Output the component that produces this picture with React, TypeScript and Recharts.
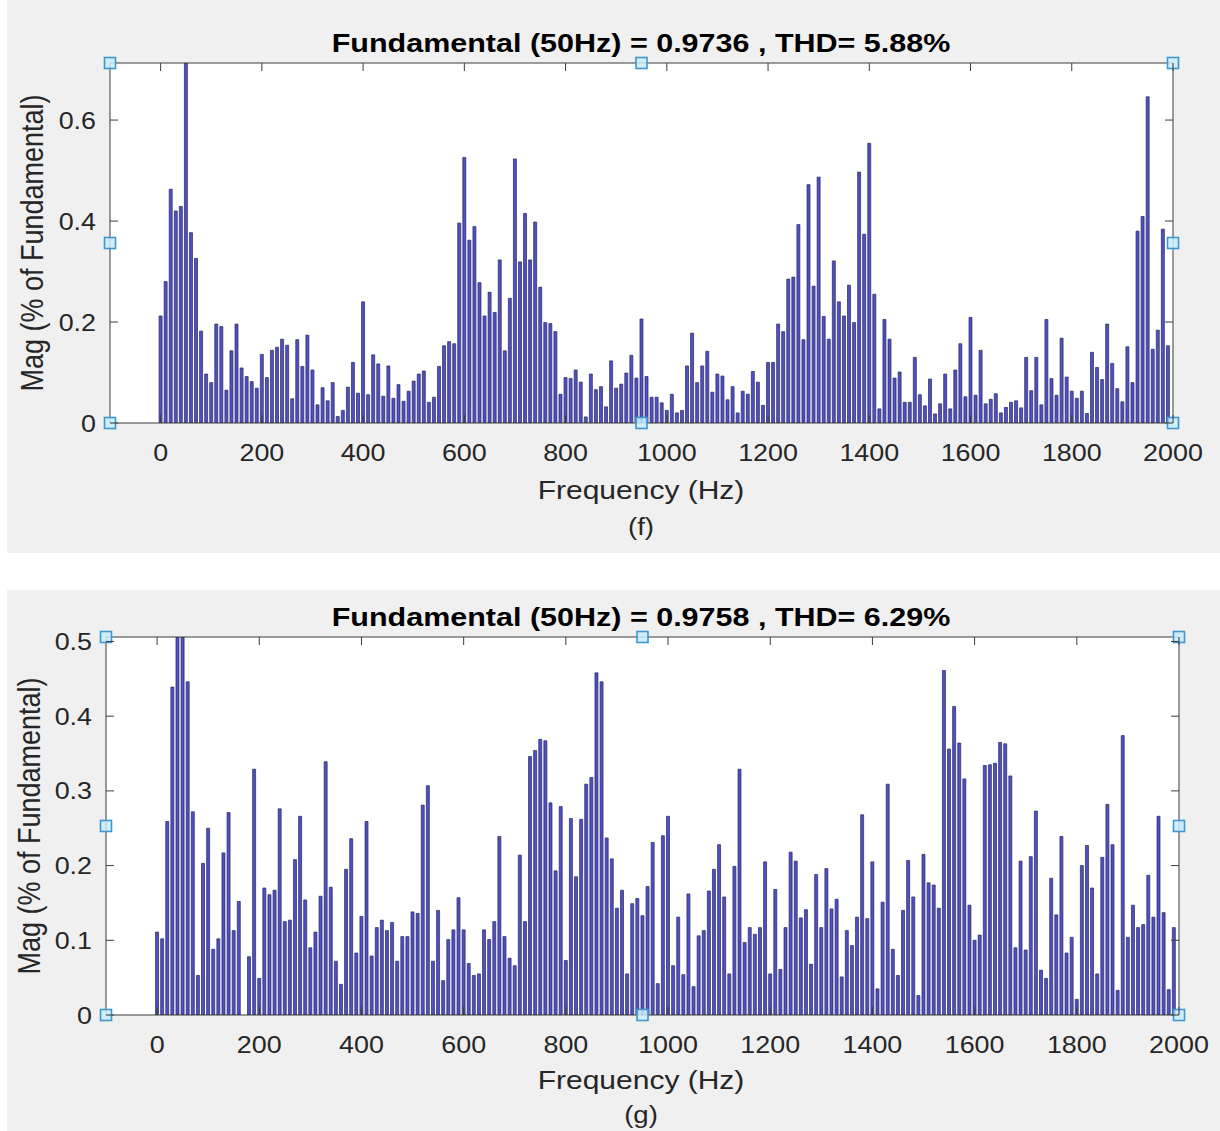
import React from 'react';
import { BarChart, Bar, XAxis, YAxis, CartesianGrid, ReferenceDot } from 'recharts';

// Harmonic magnitudes (% of fundamental), one bar every 10 Hz from 0 to 1990 Hz
const magF = [
  0.212, 0.280, 0.463, 0.420, 0.429, 0.713, 0.377, 0.326, 0.182, 0.097,
  0.080, 0.196, 0.191, 0.065, 0.143, 0.196, 0.109, 0.092, 0.082, 0.069,
  0.136, 0.090, 0.144, 0.150, 0.166, 0.154, 0.048, 0.165, 0.112, 0.174,
  0.105, 0.036, 0.070, 0.044, 0.080, 0.013, 0.025, 0.071, 0.120, 0.059,
  0.240, 0.056, 0.135, 0.117, 0.053, 0.113, 0.049, 0.076, 0.043, 0.063,
  0.083, 0.097, 0.103, 0.041, 0.051, 0.112, 0.153, 0.161, 0.157, 0.396,
  0.526, 0.362, 0.389, 0.278, 0.212, 0.259, 0.219, 0.323, 0.143, 0.247,
  0.523, 0.319, 0.415, 0.323, 0.398, 0.269, 0.199, 0.197, 0.181, 0.057,
  0.090, 0.088, 0.105, 0.081, 0.012, 0.097, 0.066, 0.072, 0.032, 0.123,
  0.069, 0.077, 0.099, 0.134, 0.089, 0.206, 0.092, 0.051, 0.051, 0.040,
  0.025, 0.057, 0.020, 0.025, 0.113, 0.178, 0.080, 0.113, 0.142, 0.061,
  0.097, 0.093, 0.046, 0.072, 0.020, 0.063, 0.057, 0.102, 0.081, 0.035,
  0.120, 0.120, 0.196, 0.181, 0.285, 0.289, 0.393, 0.165, 0.472, 0.271,
  0.487, 0.211, 0.166, 0.321, 0.240, 0.212, 0.273, 0.199, 0.497, 0.374,
  0.554, 0.255, 0.028, 0.205, 0.166, 0.089, 0.101, 0.041, 0.041, 0.130,
  0.056, 0.034, 0.087, 0.018, 0.038, 0.097, 0.028, 0.105, 0.157, 0.052,
  0.209, 0.055, 0.144, 0.038, 0.047, 0.058, 0.020, 0.031, 0.041, 0.044,
  0.030, 0.130, 0.064, 0.130, 0.036, 0.205, 0.088, 0.055, 0.168, 0.091,
  0.063, 0.049, 0.063, 0.019, 0.140, 0.110, 0.086, 0.196, 0.118, 0.068,
  0.042, 0.151, 0.080, 0.380, 0.409, 0.646, 0.146, 0.184, 0.384, 0.153,
];

const magG = [
  0.111, 0.102, 0.259, 0.439, 0.506, 0.506, 0.446, 0.272, 0.053, 0.203,
  0.250, 0.088, 0.102, 0.217, 0.271, 0.113, 0.152, 0.000, 0.078, 0.329,
  0.049, 0.170, 0.161, 0.167, 0.276, 0.125, 0.127, 0.208, 0.266, 0.154,
  0.090, 0.111, 0.159, 0.339, 0.171, 0.072, 0.041, 0.195, 0.236, 0.083,
  0.132, 0.259, 0.079, 0.117, 0.127, 0.113, 0.124, 0.072, 0.105, 0.105,
  0.138, 0.136, 0.281, 0.307, 0.072, 0.140, 0.046, 0.101, 0.114, 0.157,
  0.114, 0.069, 0.053, 0.055, 0.114, 0.101, 0.125, 0.239, 0.105, 0.076,
  0.066, 0.214, 0.125, 0.346, 0.354, 0.369, 0.367, 0.284, 0.193, 0.279,
  0.073, 0.263, 0.185, 0.262, 0.309, 0.318, 0.458, 0.446, 0.237, 0.209,
  0.143, 0.167, 0.055, 0.149, 0.156, 0.133, 0.172, 0.231, 0.042, 0.240,
  0.266, 0.066, 0.131, 0.054, 0.162, 0.038, 0.106, 0.113, 0.166, 0.195,
  0.228, 0.158, 0.055, 0.199, 0.329, 0.097, 0.117, 0.108, 0.117, 0.205,
  0.055, 0.168, 0.061, 0.117, 0.218, 0.206, 0.130, 0.141, 0.068, 0.188,
  0.117, 0.196, 0.142, 0.155, 0.051, 0.113, 0.093, 0.131, 0.268, 0.129,
  0.205, 0.035, 0.151, 0.309, 0.088, 0.053, 0.140, 0.207, 0.158, 0.026,
  0.215, 0.177, 0.174, 0.143, 0.461, 0.356, 0.413, 0.364, 0.316, 0.147,
  0.100, 0.107, 0.334, 0.335, 0.337, 0.365, 0.363, 0.320, 0.090, 0.206,
  0.087, 0.212, 0.273, 0.060, 0.049, 0.183, 0.134, 0.239, 0.083, 0.104,
  0.021, 0.200, 0.227, 0.170, 0.055, 0.211, 0.282, 0.228, 0.033, 0.374,
  0.104, 0.147, 0.117, 0.121, 0.187, 0.131, 0.266, 0.137, 0.034, 0.117,
];

// Frequency categories (Hz)
const freqs = magF.map((_, i) => i * 10);

const xTicks = [0, 200, 400, 600, 800, 1000, 1200, 1400, 1600, 1800, 2000];
const yTicksF = [0, 0.2, 0.4, 0.6];
const yTicksG = [0, 0.1, 0.2, 0.3, 0.4, 0.5];
const xDomain: [number, number] = [-100, 2000];
const yMaxF = 0.713;
const yMaxG = 0.506;

const titleF = 'Fundamental (50Hz) = 0.9736 , THD= 5.88%';
const titleG = 'Fundamental (50Hz) = 0.9758 , THD= 6.29%';

const dataF = freqs.map((f, i) => ({ f, m: magF[i] }));
const dataG = freqs.map((f, i) => ({ f, m: magG[i] }));

const FONT = '"Liberation Sans", Arial, Helvetica, sans-serif';
const AXIS = '#3c3c3c';
const TEXT = '#262626';
const TICK_SX = 1.12;
const TICK_FS = 24;
const TICK_LEN = 8;

const BottomTick = (props: any) => {
  const { x, y, payload } = props;
  return (
    <g>
      <line x1={x} x2={x} y1={y} y2={y - TICK_LEN} stroke={AXIS} strokeWidth={1} />
      <text
        transform={`translate(${x} ${y + 37.5}) scale(${TICK_SX} 1)`}
        textAnchor="middle"
        fontSize={TICK_FS}
        fontFamily={FONT}
        fill={TEXT}
      >
        {payload.value}
      </text>
    </g>
  );
};

const TopTick = (props: any) => {
  const { x, y } = props;
  return <line x1={x} x2={x} y1={y} y2={y + TICK_LEN} stroke={AXIS} strokeWidth={1} />;
};

const LeftTick = (props: any) => {
  const { x, y, payload } = props;
  return (
    <g>
      <line x1={x} x2={x + TICK_LEN} y1={y} y2={y} stroke={AXIS} strokeWidth={1} />
      <text
        transform={`translate(${x - 14} ${y + 8.5}) scale(${TICK_SX} 1)`}
        textAnchor="end"
        fontSize={TICK_FS}
        fontFamily={FONT}
        fill={TEXT}
      >
        {String(payload.value)}
      </text>
    </g>
  );
};

const RightTick = (props: any) => {
  const { x, y } = props;
  return <line x1={x} x2={x - TICK_LEN} y1={y} y2={y} stroke={AXIS} strokeWidth={1} />;
};

const Handle = (props: any) => {
  const { cx, cy } = props;
  if (cx == null || cy == null) return null;
  return (
    <rect
      x={cx - 5.5}
      y={cy - 5.5}
      width={11}
      height={11}
      fill="#c9ecfb"
      fillOpacity={0.85}
      stroke="#3d98cf"
      strokeWidth={1.6}
    />
  );
};

type PanelProps = {
  data: { f: number; m: number }[];
  top: number;
  height: number;
  margin: { top: number; right: number; bottom: number; left: number };
  yMax: number;
  yTicks: number[];
};

function Panel({ data, top, height, margin, yMax, yTicks }: PanelProps) {
  const handlesX = [xDomain[0], (xDomain[0] + xDomain[1]) / 2, xDomain[1]];
  const handlesY = [0, yMax / 2, yMax];
  const handles: { x: number; y: number }[] = [];
  handlesX.forEach((hx, i) =>
    handlesY.forEach((hy, j) => {
      if (i === 1 && j === 1) return;
      handles.push({ x: hx, y: hy });
    })
  );
  return (
    <div style={{ position: 'absolute', left: 0, top, width: 1220, height }}>
      <BarChart width={1220} height={height} data={data} margin={margin}>
        <CartesianGrid horizontal={false} vertical={false} fill="#ffffff" fillOpacity={1} />
        <XAxis
          xAxisId="b"
          dataKey="f"
          type="number"
          domain={xDomain}
          ticks={xTicks}
          interval={0}
          height={10}
          tickSize={0}
          tickMargin={0}
          tickLine={false}
          axisLine={{ stroke: AXIS, strokeWidth: 1 }}
          tick={<BottomTick />}
          allowDataOverflow
        />
        <XAxis
          xAxisId="t"
          orientation="top"
          dataKey="f"
          type="number"
          domain={xDomain}
          ticks={xTicks}
          interval={0}
          height={10}
          tickSize={0}
          tickMargin={0}
          tickLine={false}
          axisLine={{ stroke: AXIS, strokeWidth: 1 }}
          tick={<TopTick />}
          allowDataOverflow
        />
        <YAxis
          yAxisId="l"
          type="number"
          domain={[0, yMax]}
          ticks={yTicks}
          interval={0}
          width={10}
          tickSize={0}
          tickMargin={0}
          tickLine={false}
          axisLine={{ stroke: AXIS, strokeWidth: 1 }}
          tick={<LeftTick />}
          allowDataOverflow
        />
        <YAxis
          yAxisId="r"
          orientation="right"
          type="number"
          domain={[0, yMax]}
          ticks={yTicks}
          interval={0}
          width={10}
          tickSize={0}
          tickMargin={0}
          tickLine={false}
          axisLine={{ stroke: AXIS, strokeWidth: 1 }}
          tick={<RightTick />}
          allowDataOverflow
        />
        <Bar
          xAxisId="b"
          yAxisId="l"
          dataKey="m"
          barSize={3}
          fill="#5050c4"
          stroke="#26265e"
          strokeWidth={0.7}
          isAnimationActive={false}
        />
        {handles.map((h, k) => (
          <ReferenceDot
            key={k}
            xAxisId="b"
            yAxisId="l"
            x={h.x}
            y={h.y}
            r={5}
            ifOverflow="visible"
            shape={<Handle />}
          />
        ))}
      </BarChart>
    </div>
  );
}

const Txt = ({
  x,
  y,
  size,
  sx,
  bold,
  rotate,
  children,
}: {
  x: number;
  y: number;
  size: number;
  sx: number;
  bold?: boolean;
  rotate?: boolean;
  children: React.ReactNode;
}) => (
  <div
    style={{
      position: 'absolute',
      left: x,
      top: y,
      transform: rotate
        ? `translate(-50%,-50%) scaleX(${sx}) rotate(-90deg)`
        : `translate(-50%,-50%) scaleX(${sx})`,
      whiteSpace: 'nowrap',
      fontFamily: FONT,
      fontSize: size,
      fontWeight: bold ? 700 : 400,
      color: bold ? '#000000' : TEXT,
      lineHeight: 1,
    }}
  >
    {children}
  </div>
);

export default function App() {
  return (
    <div
      style={{
        position: 'absolute',
        left: 0,
        top: 0,
        width: 1220,
        height: 1131,
        background: '#ffffff',
        overflow: 'hidden',
      }}
    >
      <div style={{ position: 'absolute', left: 7, top: 0, width: 1213, height: 553, background: '#f0f0f0' }} />
      <div style={{ position: 'absolute', left: 7, top: 590, width: 1213, height: 541, background: '#f0f0f0' }} />

      <Panel
        data={dataF}
        top={0}
        height={553}
        margin={{ top: 53, right: 37, bottom: 120, left: 100 }}
        yMax={yMaxF}
        yTicks={yTicksF}
      />
      <Panel
        data={dataG}
        top={560}
        height={571}
        margin={{ top: 67, right: 31, bottom: 106, left: 96 }}
        yMax={yMaxG}
        yTicks={yTicksG}
      />

      <Txt x={641} y={43} size={25} sx={1.22} bold>{titleF}</Txt>
      <Txt x={641} y={490} size={25} sx={1.2}>Frequency (Hz)</Txt>
      <Txt x={641} y={527} size={23} sx={1.2}>(f)</Txt>
      <Txt x={33} y={243} size={27} sx={1.15} rotate>Mag (% of Fundamental)</Txt>

      <Txt x={641} y={617} size={25} sx={1.22} bold>{titleG}</Txt>
      <Txt x={641} y={1080} size={25} sx={1.2}>Frequency (Hz)</Txt>
      <Txt x={641} y={1115} size={23} sx={1.2}>(g)</Txt>
      <Txt x={30} y={826} size={27} sx={1.15} rotate>Mag (% of Fundamental)</Txt>
    </div>
  );
}
